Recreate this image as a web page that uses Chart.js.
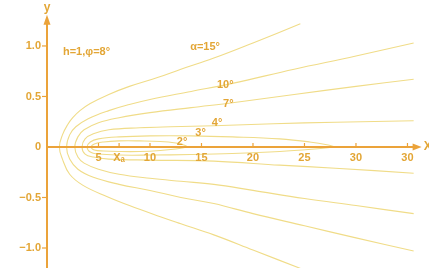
<!DOCTYPE html>
<html>
<head>
<meta charset="utf-8">
<script src="https://cdn.jsdelivr.net/npm/chart.js@4.4.0/dist/chart.umd.min.js"></script>
<style>
  html, body { margin: 0; padding: 0; background: #fff; }
</style>
</head>
<body>
<canvas id="chart" width="429" height="268"></canvas>
<script>
// --- Datos ---
const xTicks = [5, 7, 10, 15, 20, 25, 30, 35];
const xTickLabels = ['5', 'Xₐ', '10', '15', '20', '25', '30', '30'];
const yTicks = [1, 0.5, 0, -0.5, -1];
const yTickLabels = ['1.0', '0.5', '0', '−0.5', '−1.0'];

// cada curva: rama superior (derecha -> vertice) y luego rama inferior
const q15X = [24.6, 20, 16.2, 13, 10.8, 8, 6, 4.2, 3.2, 2.5, 2, 1.5, 1.2, 1.5, 2.2, 3.5, 5.8, 8, 11, 13, 16.2, 20, 24.8];
const q15Y = [1.22, 1.03, 0.88, 0.77, 0.69, 0.6, 0.52, 0.43, 0.36, 0.29, 0.22, 0.12, 0, -0.12, -0.27, -0.38, -0.49, -0.58, -0.69, -0.76, -0.87, -1.02, -1.21];

const q10X = [35.6, 30, 24, 18, 14, 10, 8, 6, 4, 2.8, 2.2, 1.9, 2.2, 3, 4.5, 7, 10, 13, 16.2, 20, 25, 30, 35.6];
const q10Y = [1.03, 0.9, 0.77, 0.63, 0.55, 0.47, 0.42, 0.36, 0.28, 0.2, 0.12, 0, -0.12, -0.22, -0.3, -0.37, -0.43, -0.5, -0.56, -0.66, -0.78, -0.9, -1.03];

const q7X = [35.6, 30, 24, 18.2, 14, 10, 7, 5, 3.6, 3, 2.7, 3, 3.6, 5, 7, 10, 13, 16.2, 20, 25, 30, 35.6];
const q7Y = [0.67, 0.6, 0.52, 0.44, 0.39, 0.34, 0.29, 0.24, 0.17, 0.1, 0, -0.1, -0.16, -0.22, -0.27, -0.31, -0.34, -0.37, -0.43, -0.51, -0.58, -0.66];

const q4X = [35.6, 28, 22, 16.2, 12, 9, 6, 4.5, 3.7, 3.4, 3.7, 4.5, 6, 10, 16.2, 22.6, 28, 35.6];
const q4Y = [0.26, 0.245, 0.23, 0.21, 0.2, 0.19, 0.17, 0.13, 0.08, 0, -0.07, -0.1, -0.12, -0.13, -0.14, -0.18, -0.21, -0.26];

const q3X = [28, 27.3, 25.5, 22.6, 18, 14, 10, 7, 5, 4.2, 3.9, 4.2, 5, 7, 10, 14, 18, 22.6, 26, 28];
const q3Y = [0, 0.02, 0.05, 0.08, 0.1, 0.11, 0.11, 0.1, 0.08, 0.05, 0, -0.05, -0.07, -0.08, -0.08, -0.075, -0.065, -0.045, -0.02, 0];

const q2X = [13.7, 13.3, 12.5, 11, 9, 7, 5.5, 4.6, 4.3, 4.6, 5.5, 7, 9, 11, 12.5, 13.7];
const q2Y = [0, 0.02, 0.04, 0.055, 0.06, 0.06, 0.05, 0.03, 0, -0.03, -0.04, -0.045, -0.045, -0.035, -0.02, 0];

const curveNames = ['15°', '10°', '7°', '4°', '3°', '2°'];

// --- Estilos ---
const AXIS = '#eba33a';
const TEXT = '#e3a636';
const CURVE = '#f0dc88';
const FONT = 'bold 11px "Liberation Sans", Arial, sans-serif';

function toPoints(xs, ys) {
    return xs.map((x, i) => ({ x: x, y: ys[i] }));
}

const curves = [[q15X, q15Y], [q10X, q10Y], [q7X, q7Y], [q4X, q4Y], [q3X, q3Y], [q2X, q2Y]];

const datasets = curves.map((c, i) => ({
    label: curveNames[i],
    data: toPoints(c[0], c[1]),
    showLine: true,
    borderColor: CURVE,
    borderWidth: 1.1,
    pointRadius: 0,
    tension: 0.4,
    fill: false
}));

// Ejes dibujados a mano (flechas, marcas y etiquetas) con las escalas de Chart.js
const axesPlugin = {
    id: 'axesPlugin',
    afterDatasetsDraw(chart) {
        const { ctx, scales: { x, y } } = chart;
        const x0 = x.getPixelForValue(0);
        const y0 = y.getPixelForValue(0);
        const xEnd = x.getPixelForValue(35.6);
        const yTop = y.getPixelForValue(1.22);

        ctx.save();
        ctx.strokeStyle = AXIS;
        ctx.fillStyle = AXIS;
        ctx.lineWidth = 2;

        // eje x
        ctx.beginPath();
        ctx.moveTo(x0, y0);
        ctx.lineTo(xEnd, y0);
        ctx.stroke();
        ctx.beginPath();
        ctx.moveTo(xEnd + 8, y0);
        ctx.lineTo(xEnd - 1, y0 - 3.5);
        ctx.lineTo(xEnd - 1, y0 + 3.5);
        ctx.closePath();
        ctx.fill();

        // eje y
        ctx.beginPath();
        ctx.moveTo(x0, chart.chartArea.bottom);
        ctx.lineTo(x0, yTop);
        ctx.stroke();
        ctx.beginPath();
        ctx.moveTo(x0, yTop - 9);
        ctx.lineTo(x0 - 3.5, yTop + 1);
        ctx.lineTo(x0 + 3.5, yTop + 1);
        ctx.closePath();
        ctx.fill();

        // marcas
        ctx.lineWidth = 1.2;
        xTicks.forEach(v => {
            const px = x.getPixelForValue(v);
            ctx.beginPath();
            ctx.moveTo(px, y0 - 4);
            ctx.lineTo(px, y0);
            ctx.stroke();
        });
        yTicks.forEach(v => {
            if (v === 0) return;
            const py = y.getPixelForValue(v);
            ctx.beginPath();
            ctx.moveTo(x0 - 5, py);
            ctx.lineTo(x0, py);
            ctx.stroke();
        });

        // etiquetas
        ctx.fillStyle = TEXT;
        ctx.font = FONT;
        ctx.textAlign = 'center';
        ctx.textBaseline = 'middle';
        xTicks.forEach((v, i) => {
            ctx.fillText(xTickLabels[i], x.getPixelForValue(v), y0 + 11);
        });
        ctx.textAlign = 'right';
        yTicks.forEach((v, i) => {
            ctx.fillText(yTickLabels[i], x0 - 6, y.getPixelForValue(v));
        });

        ctx.font = 'bold 12px "Liberation Sans", Arial, sans-serif';
        ctx.textAlign = 'center';
        ctx.fillText('y', x0, yTop - 16);
        ctx.fillText('X', xEnd + 14, y0);

        // anotaciones
        ctx.textAlign = 'left';
        ctx.font = FONT;
        ctx.fillText('h=1,φ=8°', x.getPixelForValue(1.55), y.getPixelForValue(0.94));
        ctx.fillText('α=15°', x.getPixelForValue(13.9), y.getPixelForValue(0.99));
        const labelPos = [[16.5, 0.61], [17.1, 0.43], [16.0, 0.24], [14.4, 0.14], [12.6, 0.05]];
        ['10°', '7°', '4°', '3°', '2°'].forEach((t, i) => {
            ctx.fillText(t, x.getPixelForValue(labelPos[i][0]), y.getPixelForValue(labelPos[i][1]));
        });
        ctx.restore();
    }
};

new Chart(document.getElementById('chart'), {
    type: 'scatter',
    data: { datasets: datasets },
    options: {
        responsive: false,
        devicePixelRatio: 1,
        animation: false,
        layout: { padding: 0 },
        scales: {
            x: { type: 'linear', display: false, min: -4.563, max: 37.09 },
            y: { type: 'linear', display: false, min: -1.198, max: 1.455 }
        },
        plugins: { legend: { display: false }, tooltip: { enabled: false } }
    },
    plugins: [axesPlugin]
});
</script>
</body>
</html>
